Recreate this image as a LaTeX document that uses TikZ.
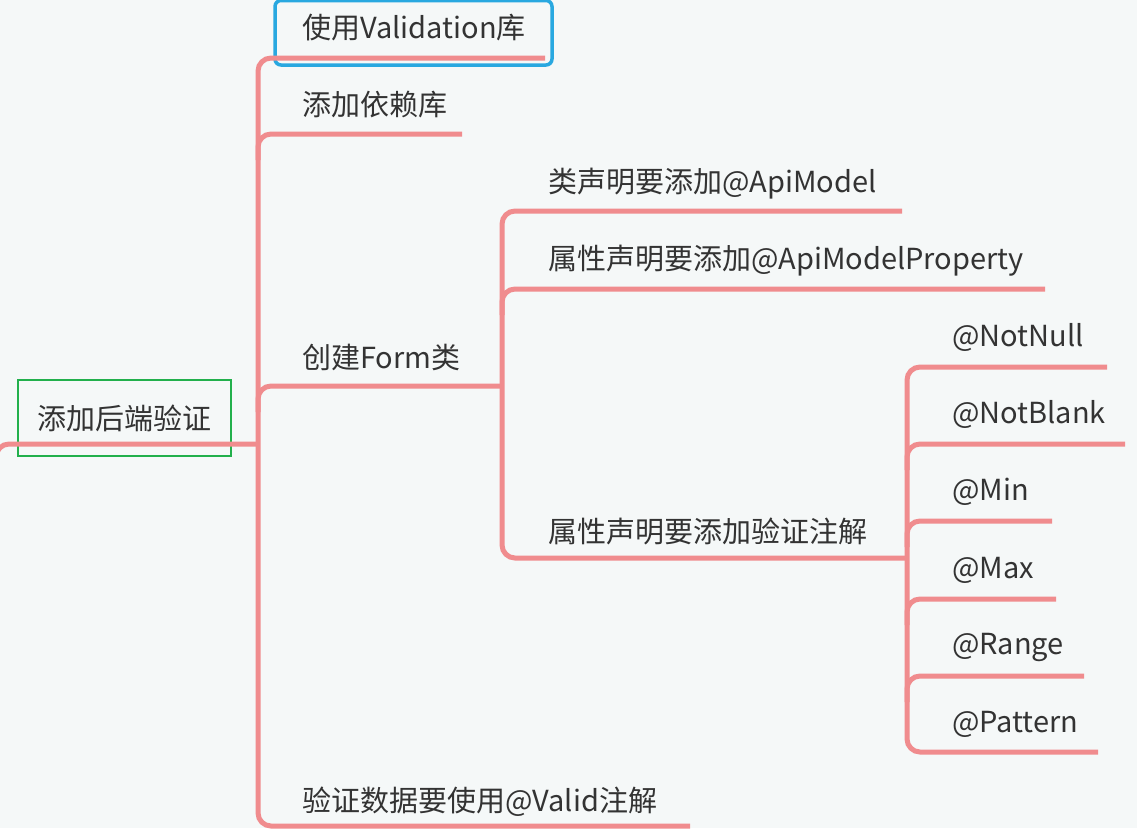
\documentclass[tikz,border=0pt]{standalone}
\usepackage{fontspec}
\setmainfont{Noto Sans CJK SC}
\definecolor{bgc}{RGB}{245,248,248}
\definecolor{linec}{RGB}{240,140,142}
\definecolor{txtc}{RGB}{51,51,51}
\definecolor{greenc}{RGB}{34,176,76}
\definecolor{bluec}{RGB}{41,168,224}
\begin{document}
\begin{tikzpicture}[x=1pt,y=-1pt,
  branch/.style={draw=linec,line width=5pt,rounded corners=13pt,line cap=butt},
  topic/.style={anchor=west,inner sep=0pt,text=txtc,font=\fontsize{29}{34}\selectfont},
  rootbox/.style={draw=greenc,line width=2.6pt,minimum width=213pt,minimum height=76pt,inner sep=0pt,text=txtc,font=\fontsize{29}{34}\selectfont},
  selbox/.style={draw=bluec,line width=3.5pt,rounded corners=6pt}]
\fill[bgc] (0,0) rectangle (1137,828);
\useasboundingbox (0,0) rectangle (1137,828);

% coordinates of trunks and line ends
\coordinate (rootin) at (-4,560);
\coordinate (rootend) at (258,444);
\coordinate (t1top) at (258,58);
\coordinate (t1bot) at (258,826);
\coordinate (valend) at (545,58);
\coordinate (depend) at (462,134);
\coordinate (formend) at (502,386);
\coordinate (validend) at (690,826);
\coordinate (t2top) at (502,211);
\coordinate (apiend) at (902,211);
\coordinate (propend) at (1045,289);
\coordinate (annoend) at (907,558);
\coordinate (t3top) at (907,367);
\coordinate (nnend) at (1107,367);
\coordinate (nbend) at (1125,444);
\coordinate (minend) at (1052,521);
\coordinate (maxend) at (1056,599);
\coordinate (rangeend) at (1084,676);
\coordinate (patend) at (1098,752);

% nodes
\node[rootbox] (root) at (124.5,418) {添加后端验证};
\node[topic] (val) at (302,28) {使用Validation库};
\node[topic] (dep) at (302,105) {添加依赖库};
\node[topic] (form) at (302,357) {创建Form类};
\node[topic] (valid) at (302,802) {验证数据要使用@Valid注解};
\node[topic] (api) at (548,184) {类声明要添加@ApiModel};
\node[topic] (prop) at (548,261) {属性声明要添加@ApiModelProperty};
\node[topic] (anno) at (548,531) {属性声明要添加验证注解};
\node[topic] (nn) at (952,337) {@NotNull};
\node[topic] (nb) at (952,414) {@NotBlank};
\node[topic] (min) at (952,492) {@Min};
\node[topic] (max) at (952,570) {@Max};
\node[topic] (range) at (952,647) {@Range};
\node[topic] (pat) at (952,724) {@Pattern};

% selection frame
\draw[selbox] (275,0.5) rectangle (552,65);

% root connector
\draw[branch] (rootin) |- (rootend);
% trunk 1
\draw[branch] (valend) -| (t1bot) -- (validend);
\draw[branch] (258,160) |- (depend);
\draw[branch] (258,412) |- (formend);
% trunk 2
\draw[branch] (apiend) -| (502,558) -- (annoend);
\draw[branch] (502,315) |- (propend);
% trunk 3
\draw[branch] (nnend) -| (907,752) -- (patend);
\draw[branch] (907,470) |- (nbend);
\draw[branch] (907,547) |- (minend);
\draw[branch] (907,625) |- (maxend);
\draw[branch] (907,702) |- (rangeend);
\end{tikzpicture}
\end{document}
